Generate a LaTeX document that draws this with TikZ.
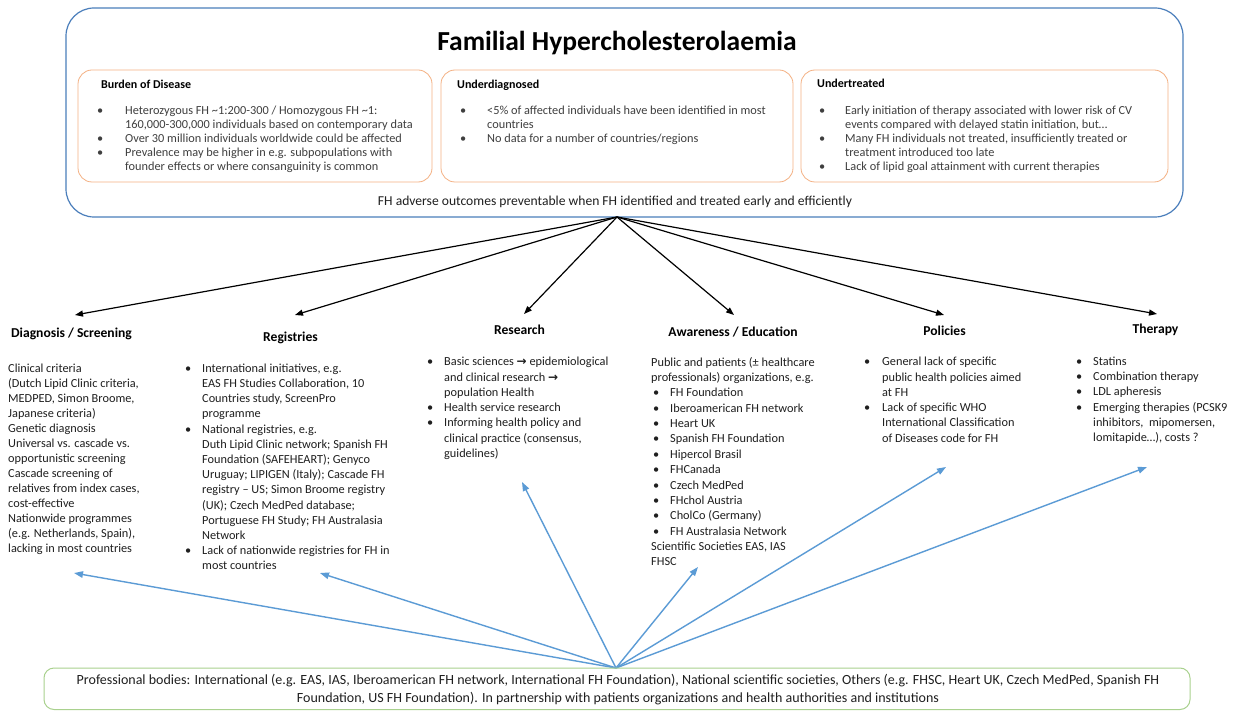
\documentclass[tikz,border=0pt]{standalone}
\usepackage{fontspec}
\setmainfont{Carlito}
\newfontfamily\symfont{DejaVu Sans}
\usetikzlibrary{arrows.meta}
\definecolor{outerblue}{HTML}{4A7EBB}
\definecolor{boxorange}{HTML}{F4B183}
\definecolor{boxgreen}{HTML}{A9D18E}
\definecolor{arrowblue}{HTML}{5B9BD5}
\definecolor{bodygray}{HTML}{3F3F3F}
\newcommand\ST{\rule{0pt}{11pt}}
\newcommand\BI[1]{\makebox[#1][l]{•}}
\newcommand\IN[1]{\hspace*{#1}}
\newcommand\RA{{\symfont\fontsize{12}{12}\selectfont\bfseries →}}
\begin{document}
\begin{tikzpicture}[x=1pt,y=-1pt,
  txt/.style={anchor=north west, inner sep=0pt, align=left, yshift=11pt},
  boxtxt/.style={txt, font=\fontsize{12.3}{14.2}\selectfont, text=bodygray},
  coltxt/.style={txt, font=\fontsize{12.3}{#1}\selectfont, text=black!88},
  coltxt/.default=15.2,
  colhead/.style={anchor=base, inner sep=0pt, font=\fontsize{13.6}{16}\selectfont\bfseries},
  boxhead/.style={anchor=base west, inner sep=0pt, font=\fontsize{12}{14}\selectfont\bfseries},
  subbox/.style={draw=boxorange, line width=0.8pt, rounded corners=14pt, minimum height=112pt, inner sep=0pt},
  blackarrow/.style={-{Triangle[length=8pt,width=6pt]}, line width=1.2pt, black},
  bluearrow/.style={-{Triangle[length=9pt,width=6.5pt]}, line width=1.4pt, arrowblue},
]
\useasboundingbox (0,0) rectangle (1236,711);
\fill[white] (0,0) rectangle (1236,711);

% top panel
\node[draw=outerblue, line width=1.2pt, rounded corners=28pt, minimum width=1117pt, minimum height=209pt, inner sep=0pt] (outer) at (624.5,112.5) {};
\node[anchor=base, inner sep=0pt, font=\fontsize{27.5}{32}\selectfont\bfseries] (title) at (617,51) {Familial Hypercholesterolaemia};

\node[subbox, minimum width=354pt] (burden) at (255,126) {};
\node[subbox, minimum width=352pt] (underdiag) at (617,126) {};
\node[subbox, minimum width=367pt] (undertreat) at (984.5,126) {};

\node[boxhead] (burdenH) at (101,88.5) {Burden of Disease};
\node[boxhead] (underdiagH) at (457,88.5) {Underdiagnosed};
\node[boxhead] (undertreatH) at (817,88) {Undertreated};

\node[boxtxt] (burdenT) at (97,114) {\ST\BI{28pt}Heterozygous FH \textasciitilde1:200-300 / Homozygous FH \textasciitilde1:\\
\IN{28pt}160,000-300,000 individuals based on contemporary data\\
\BI{28pt}Over 30 million individuals worldwide could be affected\\
\BI{28pt}Prevalence may be higher in e.g. subpopulations with\\
\IN{28pt}founder effects or where consanguinity is common};

\node[boxtxt] (underdiagT) at (460,114) {\ST\BI{27pt}<5\% of affected individuals have been identified in most\\
\IN{27pt}countries\\
\BI{27pt}No data for a number of countries/regions};

\node[boxtxt] (undertreatT) at (819,114) {\ST\BI{26pt}Early initiation of therapy associated with lower risk of CV\\
\IN{26pt}events compared with delayed statin initiation, but…\\
\BI{26pt}Many FH individuals not treated, insufficiently treated or\\
\IN{26pt}treatment introduced too late\\
\BI{26pt}Lack of lipid goal attainment with current therapies};

\node[anchor=base, inner sep=0pt, font=\fontsize{13.6}{16}\selectfont, text=black!88] (fhnote) at (615,205.5) {FH adverse outcomes preventable when FH identified and treated early and efficiently};

% hubs and tips
\coordinate (hubT) at (617,217);
\coordinate (hubB) at (616,668);
\coordinate (tDiag) at (75,315);
\coordinate (tReg) at (295,315);
\coordinate (tRes) at (524,314);
\coordinate (tAw) at (734,315);
\coordinate (tPol) at (944,315);
\coordinate (tTher) at (1157,314);
\coordinate (bDiag) at (74,573);
\coordinate (bReg) at (320,573);
\coordinate (bRes) at (522,482);
\coordinate (bAw) at (698,567);
\coordinate (bPol) at (946,467);
\coordinate (bTher) at (1147,467);

\foreach \t in {tDiag,tReg,tRes,tAw,tPol,tTher} \draw[blackarrow] (hubT) -- (\t);
\foreach \t in {bDiag,bReg,bRes,bAw,bPol,bTher} \draw[bluearrow] (hubB) -- (\t);

% column headings
\node[colhead] (diagH) at (71.5,337.5) {Diagnosis / Screening};
\node[colhead] (regH) at (290.5,341) {Registries};
\node[colhead] (resH) at (519.5,334.5) {Research};
\node[colhead] (awH) at (733,336) {Awareness / Education};
\node[colhead] (polH) at (944.5,335.5) {Policies};
\node[colhead] (therH) at (1155.5,333.5) {Therapy};

% column bodies
\node[coltxt=15] (diagT) at (8,372) {\ST Clinical criteria\\
(Dutch Lipid Clinic criteria,\\
MEDPED, Simon Broome,\\
Japanese criteria)\\
Genetic diagnosis\\
Universal vs. cascade vs.\\
opportunistic screening\\
Cascade screening of\\
relatives from index cases,\\
cost-effective\\
Nationwide programmes\\
(e.g. Netherlands, Spain),\\
lacking in most countries};

\node[coltxt=15.2] (regT) at (185,372) {\ST\BI{17pt}International initiatives, e.g.\\
\IN{17pt}EAS FH Studies Collaboration, 10\\
\IN{17pt}Countries study, ScreenPro\\
\IN{17pt}programme\\
\BI{17pt}National registries, e.g.\\
\IN{17pt}Duth Lipid Clinic network; Spanish FH\\
\IN{17pt}Foundation (SAFEHEART); Genyco\\
\IN{17pt}Uruguay; LIPIGEN (Italy); Cascade FH\\
\IN{17pt}registry – US; Simon Broome registry\\
\IN{17pt}(UK); Czech MedPed database;\\
\IN{17pt}Portuguese FH Study; FH Australasia\\
\IN{17pt}Network\\
\BI{17pt}Lack of nationwide registries for FH in\\
\IN{17pt}most countries};

\node[coltxt=15.3] (resT) at (427,365.5) {\ST\BI{17pt}Basic sciences \RA{} epidemiological\\
\IN{17pt}and clinical research \RA\\
\IN{17pt}population Health\\
\BI{17pt}Health service research\\
\BI{17pt}Informing health policy and\\
\IN{17pt}clinical practice (consensus,\\
\IN{17pt}guidelines)};

\node[coltxt=15.35] (awT) at (651,366) {\ST Public and patients (± healthcare\\
professionals) organizations, e.g.\\
\IN{2pt}\BI{17pt}FH Foundation\\
\IN{2pt}\BI{17pt}Iberoamerican FH network\\
\IN{2pt}\BI{17pt}Heart UK\\
\IN{2pt}\BI{17pt}Spanish FH Foundation\\
\IN{2pt}\BI{17pt}Hipercol Brasil\\
\IN{2pt}\BI{17pt}FHCanada\\
\IN{2pt}\BI{17pt}Czech MedPed\\
\IN{2pt}\BI{17pt}FHchol Austria\\
\IN{2pt}\BI{17pt}CholCo (Germany)\\
\IN{2pt}\BI{17pt}FH Australasia Network\\
Scientific Societies EAS, IAS\\
FHSC};

\node[coltxt=15.3] (polT) at (864,365.5) {\ST\BI{18pt}General lack of specific\\
\IN{18pt}public health policies aimed\\
\IN{18pt}at FH\\
\BI{18pt}Lack of specific WHO\\
\IN{18pt}International Classification\\
\IN{18pt}of Diseases code for FH};

\node[coltxt=15.3] (therT) at (1076,365) {\ST\BI{17pt}Statins\\
\BI{17pt}Combination therapy\\
\BI{17pt}LDL apheresis\\
\BI{17pt}Emerging therapies (PCSK9\\
\IN{17pt}inhibitors,\ \ mipomersen,\\
\IN{17pt}lomitapide…), costs ?};

% bottom panel
\node[draw=boxgreen, line width=1pt, rounded corners=10pt, minimum width=1146pt, minimum height=41.5pt, inner sep=0pt] (prof) at (617,688.75) {};
\node[anchor=north, inner sep=0pt, yshift=11pt, align=center, font=\fontsize{14}{18}\selectfont, text=black!88] (profT) at (618,684.5) {\ST Professional bodies: International (e.g. EAS, IAS, Iberoamerican FH network, International FH Foundation), National scientific societies, Others (e.g. FHSC, Heart UK, Czech MedPed, Spanish FH\\
Foundation, US FH Foundation). In partnership with patients organizations and health authorities and institutions};
\end{tikzpicture}
\end{document}
